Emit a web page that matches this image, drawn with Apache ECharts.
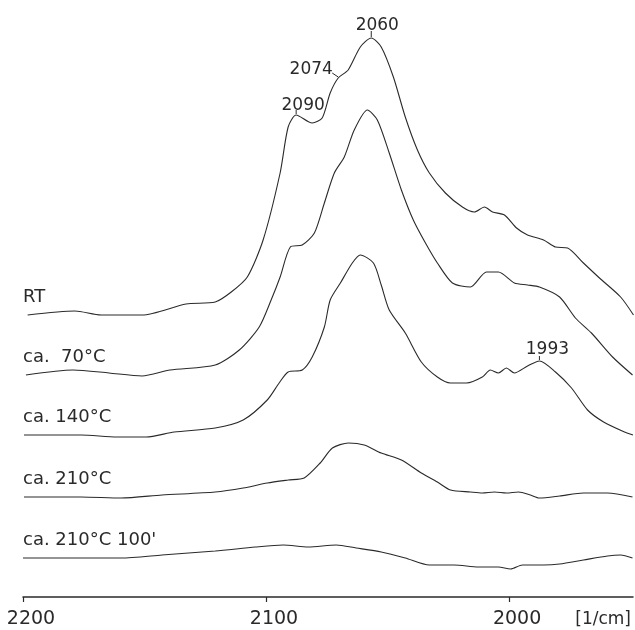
<!DOCTYPE html>
<html><head><meta charset="utf-8">
<script src="https://cdn.jsdelivr.net/npm/echarts@6/dist/echarts.min.js"></script>
<style>html,body{margin:0;padding:0;background:#fff}#c{width:635px;height:630px}</style>
</head><body><div id="c"></div>
<script>
// Wavenumbers (1/cm) and stacked absorbance (arbitrary units incl. offset)
const rtX = [2198.1,2178.6,2167.9,2151.0,2132.9,2120.9,2114.3,2107.7,2101.2,2094.2,2090.9,2087.6,2081.0,2076.9,2073.6,2070.3,2066.2,2061.2,2056.7,2052.6,2047.6,2042.7,2037.7,2032.8,2026.2,2019.2,2014.3,2010.1,2006.8,2001.9,1996.9,1992.4,1985.8,1980.9,1975.9,1969.4,1962.8,1954.1,1948.8];
const rtY = [2.82,2.86,2.82,2.82,2.93,2.95,3.05,3.20,3.57,4.24,4.70,4.82,4.74,4.79,5.04,5.19,5.27,5.50,5.59,5.50,5.20,4.80,4.47,4.24,4.04,3.90,3.85,3.90,3.85,3.82,3.69,3.62,3.57,3.50,3.49,3.34,3.19,3.00,2.82];

const t70X = [2198.8,2179.4,2164.6,2151.0,2139.5,2120.9,2111.0,2102.8,2097.9,2094.2,2090.0,2085.1,2080.1,2076.0,2071.9,2067.8,2063.7,2058.3,2054.2,2049.3,2044.3,2039.4,2034.4,2029.5,2023.3,2015.9,2009.3,2004.4,1997.8,1992.4,1987.5,1979.2,1972.7,1966.1,1957.4,1949.2];
const t70Y = [2.22,2.27,2.24,2.21,2.27,2.32,2.47,2.70,2.97,3.20,3.50,3.52,3.64,3.94,4.24,4.40,4.67,4.87,4.77,4.44,4.07,3.77,3.54,3.34,3.14,3.10,3.25,3.25,3.14,3.12,3.10,3.00,2.79,2.64,2.40,2.22];

const t140X = [2199.6,2176.1,2161.3,2149.3,2137.8,2120.9,2109.4,2099.5,2094.6,2090.9,2085.1,2081.0,2076.0,2073.6,2069.4,2064.5,2061.2,2055.8,2052.6,2049.3,2042.7,2036.1,2029.5,2024.1,2017.5,2011.0,2007.7,2004.4,2001.1,1997.8,1992.4,1987.5,1980.9,1974.3,1967.7,1961.1,1952.5,1949.0];
const t140Y = [1.62,1.62,1.60,1.60,1.65,1.69,1.77,1.97,2.14,2.25,2.27,2.40,2.70,2.97,3.14,3.34,3.42,3.34,3.12,2.87,2.64,2.35,2.20,2.14,2.14,2.20,2.27,2.24,2.29,2.24,2.31,2.36,2.25,2.09,1.87,1.75,1.65,1.62];

const t210X = [2199.6,2176.1,2159.6,2142.8,2120.9,2109.4,2099.5,2090.9,2084.3,2077.7,2072.7,2066.1,2059.6,2052.6,2044.3,2036.1,2029.5,2024.1,2015.9,2011.0,2006.0,2001.1,1996.1,1991.2,1987.5,1979.2,1969.4,1959.5,1949.2];
const t210Y = [1.00,1.00,0.99,1.02,1.05,1.09,1.14,1.17,1.19,1.34,1.49,1.54,1.52,1.44,1.37,1.24,1.15,1.07,1.05,1.04,1.05,1.04,1.05,1.02,0.99,1.01,1.04,1.04,1.00];

const t210bX = [2200.0,2176.1,2159.6,2142.8,2120.9,2104.4,2092.9,2082.6,2071.1,2062.9,2052.6,2042.7,2032.8,2022.5,2012.6,2004.4,1999.4,1994.5,1985.8,1979.2,1969.4,1959.5,1954.1,1949.2];
const t210bY = [0.39,0.39,0.39,0.42,0.46,0.50,0.52,0.50,0.52,0.49,0.45,0.39,0.32,0.32,0.30,0.30,0.28,0.32,0.32,0.33,0.37,0.41,0.42,0.39];

const seriesNames = ['RT', 'ca.  70°C', 'ca. 140°C', 'ca. 210°C', "ca. 210°C 100'"];
const tickValues = [2200, 2100, 2000];
const axisUnit = '[1/cm]';
// peak annotations: text, wavenumber, value on the curve
const peakText = ['2060', '2074', '2090', '1993'];
const peakX = [2056.7, 2070.3, 2087.6, 1987.5];
const peakY = [5.59, 5.19, 4.82, 2.36];

const xs = [rtX, t70X, t140X, t210X, t210bX];
const ys = [rtY, t70Y, t140Y, t210Y, t210bY];

const FONT = '"DejaVu Sans", sans-serif';
const INK = '#2a2a2a';

const chart = echarts.init(document.getElementById('c'));
const series = xs.map((x, i) => ({
  name: seriesNames[i],
  type: 'line',
  data: x.map((v, j) => [v, ys[i][j]]),
  showSymbol: false,
  smooth: 0.25,
  lineStyle: { color: INK, width: 1.1 },
  silent: true,
  animation: false
}));

chart.setOption({
  animation: false,
  grid: { left: 23, right: 2, top: 0, bottom: 33, containLabel: false, outerBoundsMode: 'none' },
  xAxis: {
    type: 'value', inverse: true, min: 1949, max: 2200,
    axisLine: { lineStyle: { color: INK, width: 1.5 } },
    axisTick: { customValues: tickValues, length: 5, lineStyle: { color: INK, width: 1.2 } },
    axisLabel: {
      customValues: tickValues, margin: 13, color: INK, fontFamily: FONT, fontSize: 19,
      formatter: v => '{p| }{v|' + v + '}',
      rich: { p: { width: 16 }, v: { fontFamily: FONT, fontSize: 19, color: INK } }
    },
    splitLine: { show: false },
    name: axisUnit, nameLocation: 'start', nameGap: -2,
    nameTextStyle: { color: INK, fontFamily: FONT, fontSize: 17, align: 'right', verticalAlign: 'top', padding: [14, 0, 0, 0] }
  },
  yAxis: { type: 'value', min: 0, max: 5.97, show: false },
  series: series
});

// series labels at left, just above each baseline
const graphics = [];
xs.forEach((x, i) => {
  const p = chart.convertToPixel({ gridIndex: 0 }, [x[0], ys[i][0]]);
  graphics.push({ type: 'text', x: 23, y: p[1] - 9, style: { text: seriesNames[i], fill: INK, font: '18px ' + FONT, textVerticalAlign: 'bottom' }, silent: true });
});
// peak labels with short leader lines
peakText.forEach((t, i) => {
  const p = chart.convertToPixel({ gridIndex: 0 }, [peakX[i], peakY[i]]);
  let tx, ty, lx1, ly1;
  if (i === 0) { tx = p[0] + 6; ty = p[1] - 4; lx1 = p[0]; ly1 = p[1] - 7; }
  else if (i === 1) { tx = p[0] - 27; ty = p[1] + 0; lx1 = p[0] - 6; ly1 = p[1] - 5; }
  else if (i === 2) { tx = p[0] + 7; ty = p[1] - 1; lx1 = p[0]; ly1 = p[1] - 5; }
  else { tx = p[0] + 8; ty = p[1] - 3; lx1 = p[0]; ly1 = p[1] - 5; }
  graphics.push({ type: 'line', shape: { x1: p[0], y1: p[1] - 1, x2: lx1, y2: ly1 }, style: { stroke: INK, lineWidth: 1 }, silent: true });
  graphics.push({ type: 'text', x: tx, y: ty, style: { text: t, fill: INK, font: '17px ' + FONT, textAlign: 'center', textVerticalAlign: 'bottom' }, silent: true });
});
chart.setOption({ graphic: graphics });
</script></body></html>
